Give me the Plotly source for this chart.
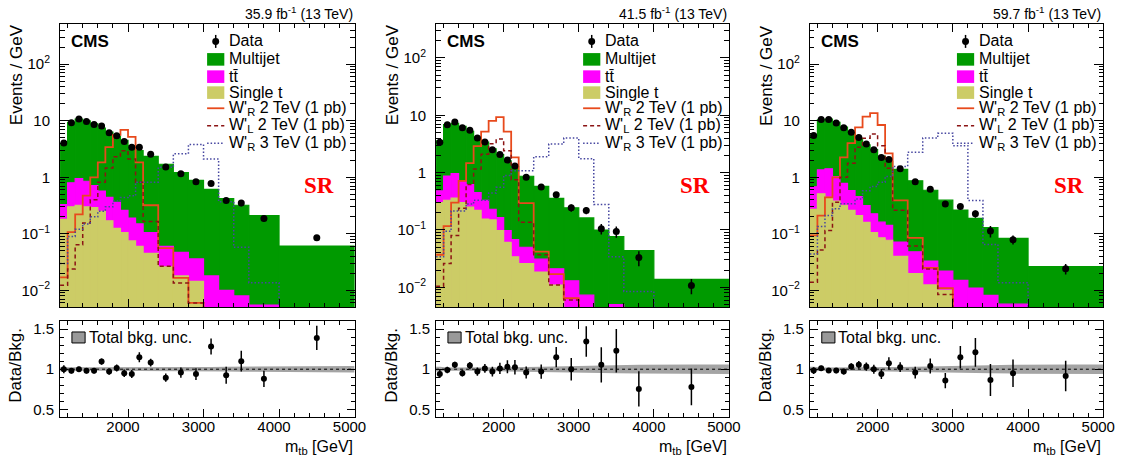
import numpy as np
import plotly.graph_objects as go

W, H = 1142, 462
FONT = "Liberation Sans, Arial, sans-serif"

# ---------------- data (values per GeV) ----------------
mtb_edges = [1100, 1200, 1300, 1400, 1500, 1600, 1700, 1800, 1900, 2000, 2100,
             2200, 2400, 2600, 2800, 3000, 3200, 3400, 3600, 4000, 5000]

lumi_text = ["35.9 fb<sup>-1</sup> (13 TeV)", "41.5 fb<sup>-1</sup> (13 TeV)",
             "59.7 fb<sup>-1</sup> (13 TeV)"]
legend_labels = ["Data", "Multijet", "tt\u0304", "Single t",
                 "W'<sub>R</sub> 2 TeV (1 pb)", "W'<sub>L</sub> 2 TeV (1 pb)",
                 "W'<sub>R</sub> 3 TeV (1 pb)"]

# 2016
data_2016 = [4.04, 9.2, 10.7, 9.7, 8.6, 8.1, 6.1, 5.4, 4.3, 3.4, 3.4, 2.55, 1.52, 1.16, 0.83, 0.78, 0.39, 0.35, 0.187, 0.085]
ratio_2016 = [1.0, 0.98, 1.0, 0.98, 0.98, 1.095, 0.97, 1.016, 0.95, 0.94, 1.15, 1.083, 0.895, 0.958, 0.94, 1.283, 0.925, 1.10, 0.88, 1.39]
ratio_err_2016 = [0.05, 0.032, 0.03, 0.032, 0.033, 0.038, 0.04, 0.044, 0.046, 0.051, 0.062, 0.048, 0.051, 0.063, 0.073, 0.10, 0.105, 0.13, 0.10, 0.15]
multijet_2016 = [3.67, 8.60, 9.75, 9.05, 8.09, 6.83, 5.86, 4.94, 4.24, 3.41, 2.81, 2.245, 1.64, 1.163, 0.844, 0.592, 0.41, 0.312, 0.2045, 0.057]
ttbar_2016 = [0.15, 0.50, 0.63, 0.55, 0.42, 0.32, 0.27, 0.235, 0.155, 0.115, 0.09, 0.06, 0.034, 0.029, 0.0215, 0.015, 0.0085, 0.007, 0.0049, 0.0037]
singlet_2016 = [0.18, 0.30, 0.32, 0.30, 0.29, 0.25, 0.17, 0.125, 0.105, 0.075, 0.06, 0.045, 0.026, 0.018, 0.0145, 0.003, 0.0015, 0.001, 0.0006, 0.0003]
wr2_2016 = [0.017, 0.107, 0.22, 0.475, 1.0, 1.84, 3.4, 5.6, 6.9, 5.2, 1.84, 0.32, 0.056, 0.0166, 0.006, 0.002, 0.001, 0.001, 0.001, 0.001]
wl2_2016 = [0.0123, 0.024, 0.064, 0.155, 0.4, 0.82, 1.46, 2.3, 2.95, 2.1, 0.82, 0.165, 0.0266, 0.0135, 0.006, 0.002, 0.001, 0.001, 0.001, 0.001]
wr3_2016 = [0.03, 0.09, 0.12, 0.15, 0.2, 0.25, 0.3, 0.38, 0.44, 0.47, 0.82, 0.82, 1.5, 2.6, 3.8, 2.1, 0.37, 0.058, 0.0137, 0.003]
bkg_unc_2016 = [0.025, 0.02, 0.02, 0.02, 0.02, 0.02, 0.02, 0.02, 0.02, 0.02, 0.02, 0.022, 0.024, 0.025, 0.026, 0.028, 0.03, 0.032, 0.035, 0.04]

# 2017
data_2017 = [3.37, 6.8, 7.6, 6.06, 5.5, 4.0, 3.42, 2.51, 2.08, 1.66, 1.31, 0.83, 0.56, 0.41, 0.243, 0.218, 0.105, 0.094, 0.033, 0.0108]
ratio_2017 = [0.94, 0.99, 1.054, 0.95, 1.046, 0.97, 1.01, 0.97, 1.01, 1.03, 1.025, 0.96, 0.97, 1.15, 1.0, 1.345, 1.054, 1.23, 0.755, 0.78]
ratio_err_2017 = [0.05, 0.04, 0.04, 0.04, 0.045, 0.05, 0.055, 0.06, 0.07, 0.08, 0.09, 0.075, 0.09, 0.125, 0.14, 0.19, 0.22, 0.27, 0.22, 0.23]
multijet_2017 = [3.11, 6.00, 6.25, 5.68, 4.64, 3.67, 3.06, 2.36, 1.895, 1.512, 1.212, 0.815, 0.546, 0.336, 0.230, 0.155, 0.0956, 0.0714, 0.0407, 0.0118]
ttbar_2017 = [0.18, 0.54, 0.60, 0.40, 0.37, 0.23, 0.175, 0.08, 0.067, 0.037, 0.034, 0.024, 0.0125, 0.010, 0.010, 0.0053, 0.003, 0.004, 0.0025, 0.0017]
singlet_2017 = [0.30, 0.33, 0.36, 0.30, 0.25, 0.22, 0.155, 0.15, 0.098, 0.061, 0.034, 0.026, 0.0185, 0.011, 0.003, 0.002, 0.001, 0.001, 0.0005, 0.0003]
wr2_2017 = [0.037, 0.117, 0.30, 0.72, 1.47, 2.9, 5.2, 8.0, 9.3, 5.2, 1.85, 0.295, 0.042, 0.017, 0.0065, 0.002, 0.001, 0.001, 0.001, 0.001]
wl2_2017 = [0.0105, 0.026, 0.08, 0.24, 0.62, 1.16, 2.1, 3.2, 3.85, 2.4, 0.75, 0.137, 0.037, 0.011, 0.006, 0.002, 0.001, 0.001, 0.001, 0.001]
wr3_2017 = [0.034, 0.095, 0.215, 0.215, 0.284, 0.33, 0.33, 0.44, 0.555, 0.89, 1.08, 1.08, 1.9, 3.15, 4.0, 1.75, 0.277, 0.034, 0.0085, 0.002]
bkg_unc_2017 = [0.03, 0.02, 0.02, 0.02, 0.02, 0.02, 0.02, 0.02, 0.02, 0.022, 0.024, 0.026, 0.03, 0.034, 0.038, 0.042, 0.046, 0.05, 0.055, 0.06]

# 2018
data_2018 = [5.5, 10.5, 10.5, 9.15, 7.5, 6.25, 5.07, 3.88, 3.08, 2.23, 2.06, 1.41, 0.83, 0.614, 0.337, 0.304, 0.226, 0.112, 0.079, 0.0242]
ratio_2018 = [0.983, 1.012, 0.983, 0.983, 0.97, 1.033, 1.054, 1.033, 1.0, 0.94, 1.075, 1.025, 0.958, 1.04, 0.858, 1.15, 1.21, 0.866, 0.95, 0.916]
ratio_err_2018 = [0.042, 0.03, 0.03, 0.033, 0.036, 0.04, 0.047, 0.052, 0.057, 0.063, 0.075, 0.061, 0.074, 0.094, 0.095, 0.14, 0.18, 0.2, 0.17, 0.19]
multijet_2018 = [4.92, 9.05, 9.29, 8.28, 6.95, 5.47, 4.353, 3.443, 2.854, 2.209, 1.779, 1.309, 0.818, 0.557, 0.371, 0.249, 0.176, 0.1208, 0.0773, 0.0234]
ttbar_2018 = [0.41, 0.84, 0.97, 0.65, 0.46, 0.32, 0.247, 0.157, 0.121, 0.076, 0.064, 0.0314, 0.0282, 0.0205, 0.012, 0.012, 0.009, 0.0072, 0.0049, 0.0026]
singlet_2018 = [0.27, 0.51, 0.44, 0.38, 0.32, 0.26, 0.21, 0.16, 0.105, 0.085, 0.077, 0.04, 0.0198, 0.0125, 0.010, 0.003, 0.002, 0.001, 0.0008, 0.0004]
wr2_2018 = [0.094, 0.21, 0.44, 1.0, 2.25, 4.0, 7.6, 11.8, 13.6, 8.4, 2.65, 0.39, 0.085, 0.025, 0.011, 0.003, 0.001, 0.001, 0.001, 0.001]
wl2_2018 = [0.014, 0.052, 0.115, 0.36, 1.0, 1.77, 3.4, 4.9, 5.8, 3.6, 1.45, 0.26, 0.061, 0.024, 0.0085, 0.002, 0.001, 0.001, 0.001, 0.001]
wr3_2018 = [0.044, 0.135, 0.21, 0.277, 0.34, 0.34, 0.415, 0.58, 0.685, 0.82, 1.03, 1.55, 2.76, 4.95, 6.0, 3.62, 0.39, 0.065, 0.0137, 0.003]
bkg_unc_2018 = [0.03, 0.02, 0.02, 0.02, 0.02, 0.02, 0.02, 0.02, 0.02, 0.022, 0.024, 0.026, 0.03, 0.034, 0.038, 0.042, 0.046, 0.05, 0.055, 0.06]

panels = [
    dict(data=data_2016, ratio=ratio_2016, rerr=ratio_err_2016, mj=multijet_2016, tt=ttbar_2016,
         st=singlet_2016, wr2=wr2_2016, wl2=wl2_2016, wr3=wr3_2016, unc=bkg_unc_2016),
    dict(data=data_2017, ratio=ratio_2017, rerr=ratio_err_2017, mj=multijet_2017, tt=ttbar_2017,
         st=singlet_2017, wr2=wr2_2017, wl2=wl2_2017, wr3=wr3_2017, unc=bkg_unc_2017),
    dict(data=data_2018, ratio=ratio_2018, rerr=ratio_err_2018, mj=multijet_2018, tt=ttbar_2018,
         st=singlet_2018, wr2=wr2_2018, wl2=wl2_2018, wr3=wr3_2018, unc=bkg_unc_2018),
]

# ---------------- style / geometry ----------------
PANEL_X = [(60.7, 358.3), (440.7, 736.7), (818.5, 1115.0)]
UP_Y = (22.7, 306.7)
LO_Y = (320.7, 417.3)
YRANGES = [(-2.294, 2.716), (-2.343, 2.597), (-2.294, 2.716)]

C_MJ, C_TT, C_ST = "#009a00", "#ff00ff", "#cccc66"
C_WR2, C_WL2, C_WR3 = "#e84a1c", "#8b1414", "#4646a0"
C_BAND = "#a4a4a4"


def X(px):
    return px / W


def Y(py):
    return 1 - py / H


edges = np.array(mtb_edges, float)
centers = 0.5 * (edges[:-1] + edges[1:])
widths = np.diff(edges)
log_minor = [k * 10.0 ** e for e in range(-3, 3) for k in range(2, 10)]

fig = go.Figure()
shapes, annotations = [], []
layout_axes = {}


def ax_ref(letter, n):
    return letter if n == 1 else f"{letter}{n}"


def ax_key(letter, n):
    return f"{letter}axis" if n == 1 else f"{letter}axis{n}"


def ann(text, x, y, size, xanchor="left", yanchor="middle", color="black", family=FONT, angle=0):
    annotations.append(dict(text=text, x=X(x), y=Y(y), xref="paper", yref="paper", showarrow=False,
                            xanchor=xanchor, yanchor=yanchor, textangle=angle,
                            font=dict(family=family, size=size, color=color)))


for i, p in enumerate(panels):
    nu, nl = 2 * i + 1, 2 * i + 2
    xu, yu, xl, yl = ax_ref("x", nu), ax_ref("y", nu), ax_ref("x", nl), ax_ref("y", nl)
    L, R = PANEL_X[i]

    st = np.array(p["st"])
    tt_top = st + np.array(p["tt"])
    total = tt_top + np.array(p["mj"])

    # stacked histogram (drawn as overlaid cumulative bars)
    for vals, col in [(total, C_MJ), (tt_top, C_TT), (st, C_ST)]:
        fig.add_trace(go.Bar(x=centers, y=vals, width=widths, marker=dict(color=col, line=dict(width=1.2, color=col)),
                             xaxis=xu, yaxis=yu, showlegend=False, hoverinfo="skip"))

    # signals (step lines)
    for key, col, dash, lw in [("wr2", C_WR2, "solid", 1.8), ("wl2", C_WL2, "4px,3px", 1.5),
                               ("wr3", C_WR3, "1.5px,2px", 1.5)]:
        v = list(p[key])
        fig.add_trace(go.Scatter(x=edges, y=v + [v[-1]], mode="lines",
                                 line=dict(shape="hv", color=col, width=lw, dash=dash),
                                 xaxis=xu, yaxis=yu, showlegend=False, hoverinfo="skip"))

    # data
    data = np.array(p["data"])
    ratio = np.array(p["ratio"])
    rerr = np.array(p["rerr"])
    fig.add_trace(go.Scatter(x=centers, y=data, mode="markers", marker=dict(color="black", size=7),
                             error_y=dict(type="data", array=data * rerr / ratio, color="black", thickness=1.5, width=0),
                             xaxis=xu, yaxis=yu, showlegend=False))

    # ratio panel: uncertainty band
    unc = np.array(p["unc"])
    bx = np.concatenate([[edges[0]], centers, [edges[-1]]])
    bu = np.concatenate([[unc[0]], unc, [unc[-1]]])
    fig.add_trace(go.Scatter(x=np.concatenate([bx, bx[::-1]]), y=np.concatenate([1 + bu, (1 - bu)[::-1]]),
                             fill="toself", fillcolor=C_BAND, line=dict(width=0), mode="lines",
                             xaxis=xl, yaxis=yl, showlegend=False, hoverinfo="skip"))
    fig.add_trace(go.Scatter(x=[edges[0], edges[-1]], y=[1, 1], mode="lines",
                             line=dict(color="black", width=1, dash="3px,3px"),
                             xaxis=xl, yaxis=yl, showlegend=False, hoverinfo="skip"))
    fig.add_trace(go.Scatter(x=centers, y=ratio, mode="markers", marker=dict(color="black", size=6),
                             error_y=dict(type="data", array=rerr, color="black", thickness=1.5, width=0),
                             xaxis=xl, yaxis=yl, showlegend=False))

    common_x = dict(range=[edges[0], edges[-1]], tick0=0, dtick=1000, ticks="inside", ticklen=8, tickwidth=1,
                    tickcolor="black", showline=True, linecolor="black", linewidth=1, mirror="allticks",
                    showgrid=False, zeroline=False,
                    minor=dict(ticks="inside", ticklen=4, tick0=0, dtick=200, tickcolor="black", showgrid=False),
                    tickfont=dict(family=FONT, size=15, color="black"), domain=[X(L), X(R)])
    layout_axes[ax_key("x", nu)] = dict(common_x, anchor=yu, showticklabels=False)
    layout_axes[ax_key("x", nl)] = dict(common_x, anchor=yl, showticklabels=True, ticklabelshift=-5,
                                        ticklabelstandoff=-4)
    layout_axes[ax_key("y", nu)] = dict(type="log", range=list(YRANGES[i]), domain=[Y(UP_Y[1]), Y(UP_Y[0])], anchor=xu,
                                        tickmode="array", tickvals=[0.01, 0.1, 1, 10, 100],
                                        ticktext=["10<sup>\u22122</sup>", "10<sup>\u22121</sup>", "1", "10", "10<sup>2</sup>"],
                                        ticks="inside", ticklen=9, tickwidth=1, tickcolor="black",
                                        minor=dict(ticks="inside", ticklen=4.5, tickmode="array", tickvals=log_minor,
                                                   tickcolor="black", showgrid=False),
                                        showline=True, linecolor="black", linewidth=1, mirror="allticks",
                                        showgrid=False, zeroline=False, ticklabelstandoff=6,
                                        tickfont=dict(family=FONT, size=15, color="black"))
    layout_axes[ax_key("y", nl)] = dict(range=[0.4, 1.6], domain=[Y(LO_Y[1]), Y(LO_Y[0])], anchor=xl,
                                        tickmode="array", tickvals=[0.5, 1, 1.5], ticktext=["0.5", "1", "1.5"],
                                        ticks="inside", ticklen=8, tickwidth=1, tickcolor="black",
                                        minor=dict(ticks="inside", ticklen=4, tick0=0, dtick=0.1, tickcolor="black",
                                                   showgrid=False),
                                        showline=True, linecolor="black", linewidth=1, mirror="allticks",
                                        showgrid=False, zeroline=False, ticklabelstandoff=2,
                                        tickfont=dict(family=FONT, size=15, color="black"))

    # ---------- texts ----------
    ann("<b>CMS</b>", L + 9.3, 41, 17)
    ann("<b>SR</b>", L + 262, 185, 23, xanchor="center", color="#ff0000",
        family="Liberation Serif, Times New Roman, serif")
    ann(lumi_text[i], R, 12.5, 14, xanchor="right")
    ann("Events / GeV", L - 44.5, 21.7, 17, xanchor="center", yanchor="top", angle=-90)
    ann("Data/Bkg.", L - 45, 365, 17, xanchor="center", angle=-90)
    ann("m<sub>tb</sub> [GeV]", R, 447, 16, xanchor="right")

    # ---------- legend (upper) ----------
    sx0, sx1 = L + 148.6, L + 166.0
    scx = 0.5 * (sx0 + sx1)
    tx = L + 168.6
    text_y = [39.5, 57.5, 75.5, 91.5, 107.5, 125.0, 142.5]
    for lab, ty in zip(legend_labels, text_y):
        ann(lab, tx, ty, 16)
    # data symbol
    shapes.append(dict(type="line", xref="paper", yref="paper", x0=X(scx), x1=X(scx), y0=Y(34), y1=Y(47),
                       line=dict(color="black", width=1.5)))
    shapes.append(dict(type="circle", xref="paper", yref="paper", x0=X(scx - 3.5), x1=X(scx + 3.5),
                       y0=Y(40.5 + 3.5), y1=Y(40.5 - 3.5), fillcolor="black", line=dict(width=0)))
    for (yc, col) in [(58.5, C_MJ), (75.8, C_TT), (91.8, C_ST)]:
        shapes.append(dict(type="rect", xref="paper", yref="paper", x0=X(sx0), x1=X(sx1), y0=Y(yc + 6.3),
                           y1=Y(yc - 6.3), fillcolor=col, line=dict(width=0)))
    for (yc, col, dash, lw) in [(107.5, C_WR2, "solid", 1.8), (125.0, C_WL2, "4px,3px", 1.5),
                                (142.5, C_WR3, "1.5px,2px", 1.5)]:
        shapes.append(dict(type="line", xref="paper", yref="paper", x0=X(sx0), x1=X(sx1), y0=Y(yc), y1=Y(yc),
                           line=dict(color=col, width=lw, dash=dash)))

    # ---------- legend (ratio) ----------
    shapes.append(dict(type="rect", xref="paper", yref="paper", x0=X(L + 12), x1=X(L + 25.3), y0=Y(342.7),
                       y1=Y(331.7), fillcolor="#999999", line=dict(color="black", width=1)))
    ann("Total bkg. unc.", L + 26.8, 337, 16)

fig.update_layout(width=W, height=H, margin=dict(l=0, r=0, t=0, b=0), paper_bgcolor="white",
                  plot_bgcolor="white", barmode="overlay", showlegend=False,
                  shapes=shapes, annotations=annotations, font=dict(family=FONT), **layout_axes)

fig.write_html("out.html", config={"displayModeBar": False},
               post_script="document.body.style.margin='0px';document.body.style.overflow='hidden';")
